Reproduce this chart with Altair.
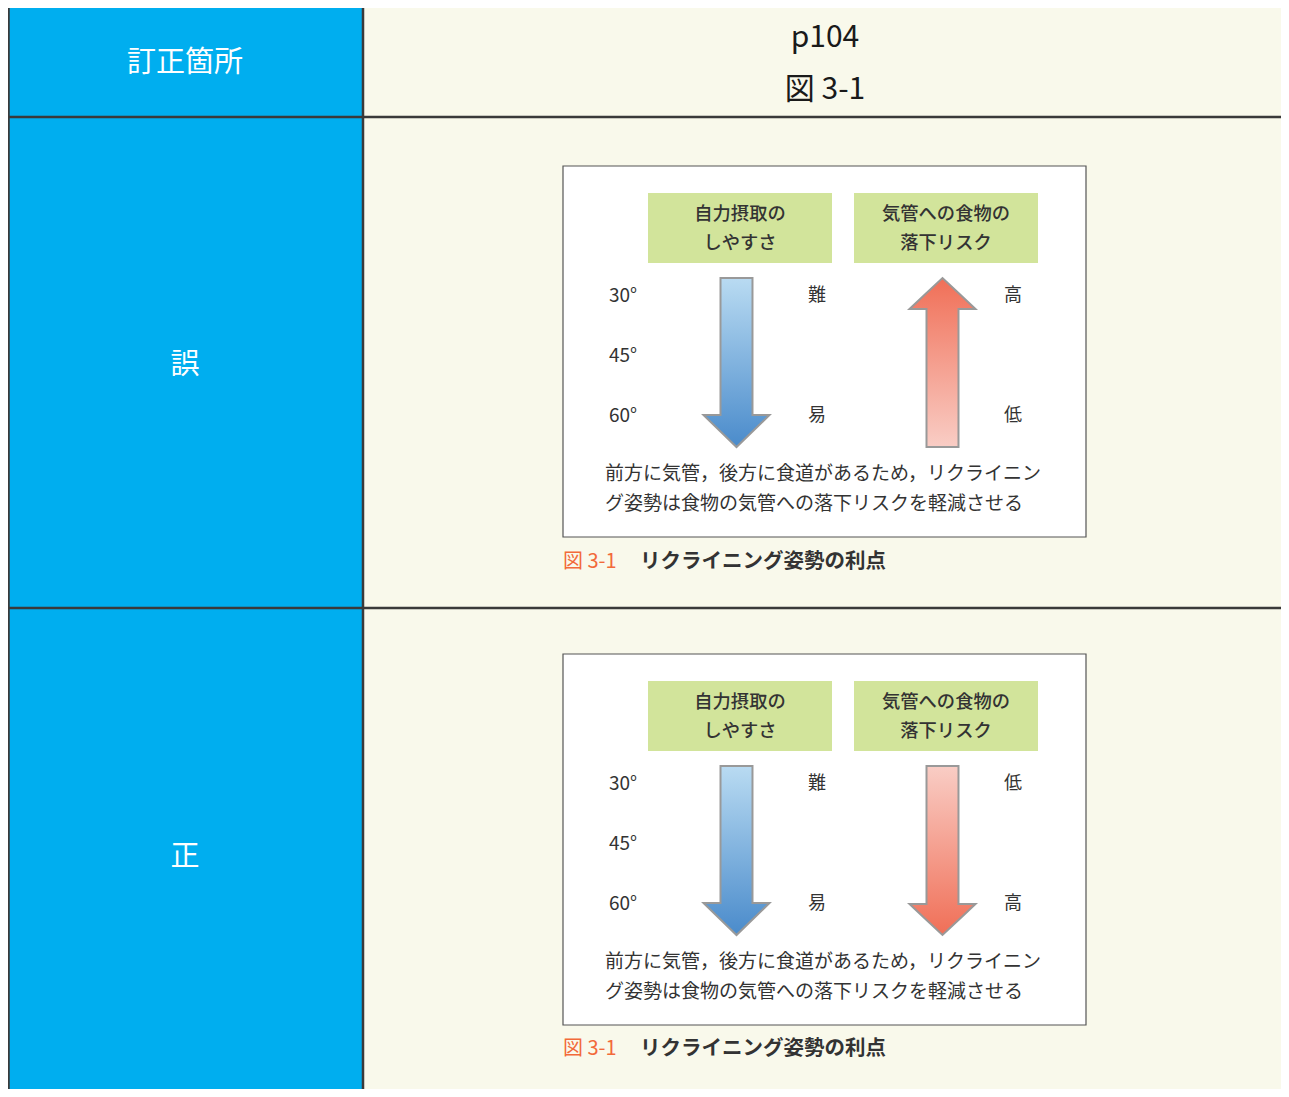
import altair as alt
import pandas as pd

FONT = "Noto Sans CJK JP"
W, H = 1273, 1081

# ---------------- text content ----------------
header_label = "訂正箇所"
header_page = "p104"
header_fig = "図 3-1"
row_labels = ["誤", "正"]
col1_title = ["自力摂取の", "しやすさ"]
col2_title = ["気管への食物の", "落下リスク"]
angles = ["30°", "45°", "60°"]
ease_labels = ["難", "易"]
risk_labels = [["高", "低"], ["低", "高"]]      # wrong panel, corrected panel
risk_dirs = ["up", "down"]                     # direction of risk arrow per panel
note_lines = ["前方に気管，後方に食道があるため，リクライニン",
              "グ姿勢は食物の気管への落下リスクを軽減させる"]
caption_num = "図 3-1"
caption_text = "リクライニング姿勢の利点"

# ---------------- colours ----------------
BLUE = "#00aeef"
CREAM = "#f9f9eb"
GREEN = "#d2e49b"
LINE = "#3a3a3a"
ORANGE = "#f26a3a"
TXT = "#333333"
BLUE_LIGHT, BLUE_DARK = "#b9dbf2", "#4a8bcb"
RED_DARK, RED_LIGHT = "#f06f57", "#f9cdc5"

# ---------------- layout (page pixel grid) ----------------
panel_dy = [0, 488]
xs = alt.Scale(domain=[8, 8 + W], nice=False, zero=False)
ys = alt.Scale(domain=[8, 8 + H], nice=False, zero=False, reverse=True)

# rectangles
rects = [
    dict(x=0, x2=363, y=0, y2=1100, fill=BLUE, stroke=BLUE, sw=0),
    dict(x=363, x2=1300, y=0, y2=1100, fill=CREAM, stroke=CREAM, sw=0),
]
for dy in panel_dy:
    rects.append(dict(x=563, x2=1086, y=166 + dy, y2=537 + dy, fill="#ffffff", stroke="#555555", sw=1.2))
    rects.append(dict(x=648, x2=832, y=193 + dy, y2=263 + dy, fill=GREEN, stroke=GREEN, sw=0))
    rects.append(dict(x=854, x2=1038, y=193 + dy, y2=263 + dy, fill=GREEN, stroke=GREEN, sw=0))
rect_df = pd.DataFrame(rects)

# table rules
rules = [
    dict(x=0, x2=1300, y=4, y2=4),
    dict(x=0, x2=1300, y=117, y2=117),
    dict(x=0, x2=1300, y=608, y2=608),
    dict(x=8.5, x2=8.5, y=0, y2=1100),
    dict(x=363, x2=363, y=0, y2=1100),
]
rule_df = pd.DataFrame(rules)


def arrow(cx, top, bottom, direction, shaft=16, head=33, head_len=32):
    """Arrow outline as a vertical area: for each x, top edge y and bottom edge y2."""
    e = 0.01
    if direction == "down":
        hb = bottom - head_len
        def edge(x):
            return hb + head_len * (1 - abs(x - cx) / head)
        pts = [(cx - head, hb, hb),
               (cx - shaft, hb, edge(cx - shaft)),
               (cx - shaft + e, top, edge(cx - shaft + e)),
               (cx, top, bottom),
               (cx + shaft - e, top, edge(cx + shaft - e)),
               (cx + shaft, hb, edge(cx + shaft)),
               (cx + head, hb, hb)]
    else:
        hb = top + head_len
        def edge(x):
            return hb - head_len * (1 - abs(x - cx) / head)
        pts = [(cx - head, hb, hb),
               (cx - shaft, edge(cx - shaft), hb),
               (cx - shaft + e, edge(cx - shaft + e), bottom),
               (cx, top, bottom),
               (cx + shaft - e, edge(cx + shaft - e), bottom),
               (cx + shaft, edge(cx + shaft), hb),
               (cx + head, hb, hb)]
    return pd.DataFrame(pts, columns=["x", "y", "y2"])


def grad(c0, c1):
    return alt.LinearGradient(
        gradient="linear", x1=0, x2=0, y1=0, y2=1,
        stops=[alt.GradientStop(color=c0, offset=0), alt.GradientStop(color=c1, offset=1)])


def arrow_layer(df, gradient):
    return alt.Chart(df).mark_area(
        fill=gradient, stroke="#999999", strokeWidth=2, clip=True
    ).encode(
        x=alt.X("x:Q", scale=xs, axis=None),
        y=alt.Y("y:Q", scale=ys, axis=None, stack=None),
        y2="y2:Q",
    )


arrow_layers = []
for k, dy in enumerate(panel_dy):
    arrow_layers.append(arrow_layer(arrow(736.5, 278 + dy, 447 + dy, "down"),
                                    grad(BLUE_LIGHT, BLUE_DARK)))
    if risk_dirs[k] == "up":
        arrow_layers.append(arrow_layer(arrow(942.5, 278 + dy, 447 + dy, "up", head_len=31),
                                        grad(RED_DARK, RED_LIGHT)))
    else:
        arrow_layers.append(arrow_layer(arrow(942.5, 278 + dy, 447 + dy, "down", head_len=31),
                                        grad(RED_LIGHT, RED_DARK)))


# texts
def tl(rows, size, color, align="center", weight="normal"):
    return alt.Chart(pd.DataFrame(rows, columns=["t", "x", "y"])).mark_text(
        font=FONT, fontSize=size, color=color, align=align, baseline="middle",
        fontWeight=weight, clip=True, dy=2
    ).encode(
        x=alt.X("x:Q", scale=xs, axis=None),
        y=alt.Y("y:Q", scale=ys, axis=None),
        text="t:N",
    )


white_big = [(header_label, 185, 61)] + [(row_labels[k], 185, 363 + 492 * k) for k in range(2)]
black_big = [(header_page, 825, 36), (header_fig, 825, 88)]
green_txt, angle_txt, side_txt, note_txt, cap_num, cap_txt = [], [], [], [], [], []
for k, dy in enumerate(panel_dy):
    for j in range(2):
        green_txt.append((col1_title[j], 740, 213 + 29 * j + dy))
        green_txt.append((col2_title[j], 946, 213 + 29 * j + dy))
    for j, a in enumerate(angles):
        angle_txt.append((a, 609, 294 + 60 * j + dy))
    for j in range(2):
        side_txt.append((ease_labels[j], 817, 294 + 120 * j + dy))
        side_txt.append((risk_labels[k][j], 1013, 294 + 120 * j + dy))
    for j, line in enumerate(note_lines):
        note_txt.append((line, 605, 472 + 30 * j + dy))
    cap_num.append((caption_num, 563, 560 + dy - (1 if k else 0)))
    cap_txt.append((caption_text, 640, 560 + dy - (1 if k else 0)))

rect_layer = alt.Chart(rect_df).mark_rect(clip=True).encode(
    x=alt.X("x:Q", scale=xs, axis=None), x2="x2:Q",
    y=alt.Y("y:Q", scale=ys, axis=None), y2="y2:Q",
    fill=alt.Fill("fill:N", scale=None),
    stroke=alt.Stroke("stroke:N", scale=None),
    strokeWidth=alt.StrokeWidth("sw:Q", scale=None),
)
rule_layer = alt.Chart(rule_df).mark_rule(color=LINE, strokeWidth=2.5, clip=True).encode(
    x=alt.X("x:Q", scale=xs, axis=None), x2="x2:Q",
    y=alt.Y("y:Q", scale=ys, axis=None), y2="y2:Q",
)

layers = [rect_layer, rule_layer] + arrow_layers + [
    tl(white_big, 29, "#ffffff"),
    tl(black_big, 30, "#1a1a1a"),
    tl(green_txt, 18.3, TXT, weight=500),
    tl(angle_txt, 19, TXT, align="left"),
    tl(side_txt, 18, TXT),
    tl(note_txt, 19, TXT, align="left"),
    tl(cap_num, 20, ORANGE, align="left"),
    tl(cap_txt, 20.5, TXT, align="left", weight="bold"),
]

chart = alt.layer(*layers).properties(
    width=W, height=H, padding=0, autosize="none", background="#ffffff"
).configure_view(strokeWidth=0)

chart.save("out.html", embed_options={"renderer": "svg", "actions": False})
